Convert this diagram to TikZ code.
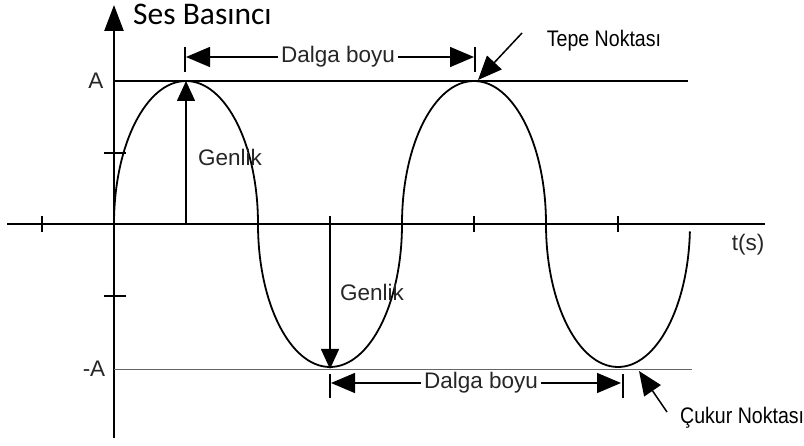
\documentclass[tikz,border=0pt]{standalone}
\usepackage{fontspec}
\setmainfont{Liberation Sans}
\newfontfamily\titlefont{Carlito}
\usetikzlibrary{arrows.meta}
\tikzset{
  lbl/.style={font=\fontsize{22.5}{22.5}\selectfont, inner sep=0pt, text=black!85},
  note/.style={font=\fontsize{22.5}{22.5}\selectfont, xscale=0.87, inner sep=0pt, text=black},
  tip/.style={-{Triangle[length=20pt,width=18pt]}},
  bigtip/.style={-{Triangle[length=24pt,width=20pt]}},
  bar/.style={line width=1.8pt},
}
\begin{document}
\begin{tikzpicture}[x=1pt,y=-1pt]
\useasboundingbox (0,0) rectangle (804,446);
% axes
\coordinate (o) at (114,224);
\coordinate (ytop) at (114,5);
\coordinate (ybot) at (114,438);
\coordinate (xl) at (7,224);
\coordinate (xr) at (765,224);
\draw[line width=2.5pt,-{Triangle[length=26pt,width=19pt]}] (ybot) -- (ytop);
\draw[line width=2.5pt] (xl) -- (xr);
\foreach \t in {42,330,474,618}
  \draw[line width=2pt] (\t,216) -- (\t,232);
\draw[line width=2pt] (104,153) -- (126,153);
\draw[line width=2pt] (104,296) -- (126,296);
% levels
\draw[line width=1.5pt] (114,81) -- (688,81);
\draw[line width=0.9pt,black!60] (114,369) -- (692,369);
% wave
\draw[line width=1.8pt] (o)
  arc[start angle=180,end angle=0,x radius=72pt,y radius=143pt]
  arc[start angle=180,end angle=360,x radius=72pt,y radius=143pt]
  arc[start angle=180,end angle=0,x radius=72pt,y radius=143pt]
  arc[start angle=180,end angle=357,x radius=72pt,y radius=143pt];
% labels
\node[anchor=base west,text=black,font=\titlefont\fontsize{31.5}{31.5}\selectfont,inner sep=0pt] (ses) at (133,25) {Ses Basıncı};
\node[lbl] (a) at (96,81) {A};
\node[lbl] (ma) at (94,369) {-A};
\node[lbl] (t) at (748,245) {t(s)};
% amplitude
\coordinate (peak) at (186,81);
\coordinate (peakb) at (186,224);
\coordinate (trough) at (330,369);
\coordinate (troughb) at (330,224);
\draw[line width=1.5pt,tip] (peakb) -- (peak);
\draw[line width=1.5pt,tip] (troughb) -- (trough);
\node[lbl] (g1) at (230,157) {Genlik};
\node[lbl] (g2) at (372,292) {Genlik};
% wavelength
\draw[bar] (185,47) -- (185,72);
\draw[bar] (475,47) -- (475,72);
\node[lbl,inner xsep=3pt] (dtop) at (338,57) {Dalga boyu};
\coordinate (dtl) at (186,57);
\coordinate (dtr) at (474,57);
\draw[line width=1.5pt,bigtip] (dtop.west) -- (dtl);
\draw[line width=1.5pt,bigtip] (dtop.east) -- (dtr);
\draw[bar] (330,374) -- (330,398);
\draw[bar] (623,374) -- (623,398);
\node[lbl,inner xsep=3pt] (dbot) at (481,383) {Dalga boyu};
\coordinate (dbl) at (331,383);
\coordinate (dbr) at (621,383);
\draw[line width=1.5pt,bigtip] (dbot.west) -- (dbl);
\draw[line width=1.5pt,bigtip] (dbot.east) -- (dbr);
% notes
\node[note] (tepe) at (604,41) {Tepe Noktası};
\coordinate (tepes) at (522,33);
\coordinate (tepee) at (478,80);
\draw[line width=1.5pt,bigtip] (tepes) -- (tepee);
\node[note,anchor=west] (cukur) at (680,418) {Çukur Noktası};
\coordinate (cukurs) at (667,412);
\coordinate (cukure) at (639,371);
\draw[line width=1.5pt,bigtip] (cukurs) -- (cukure);
\end{tikzpicture}
\end{document}
